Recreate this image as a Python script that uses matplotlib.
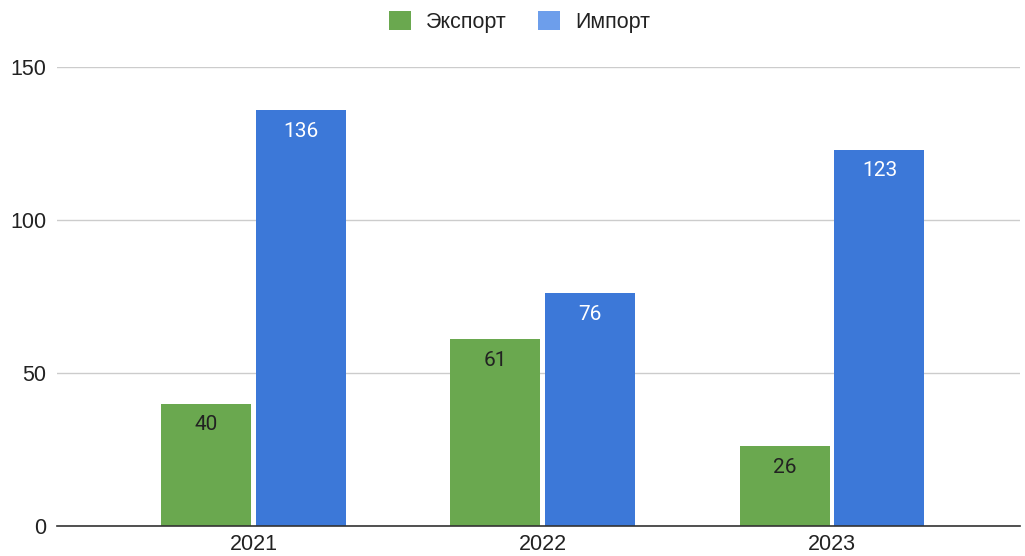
import matplotlib
matplotlib.use("Agg")
import matplotlib.pyplot as plt
from matplotlib.patches import Patch
import numpy as np

plt.rcParams['font.family'] = ['Liberation Sans', 'DejaVu Sans']

years = ["2021", "2022", "2023"]
export_vals = [40, 61, 26]
import_vals = [136, 76, 123]
series_names = ["Экспорт", "Импорт"]
yticks = [0, 50, 100, 150]

green = "#6aa84f"
blue = "#3c78d8"
blue_legend = "#6d9eeb"

fig = plt.figure(figsize=(10.25, 5.56), dpi=100)
ax = fig.add_axes([57/1025, 1 - 526/556, (1020-57)/1025, (526-67)/556])

x = np.arange(len(years))
w = 0.311
off = 0.164
b1 = ax.bar(x - off, export_vals, w, color=green, zorder=3)
b2 = ax.bar(x + off, import_vals, w, color=blue, zorder=3)

for rect, v in zip(b1, export_vals):
    ax.annotate(str(v), (rect.get_x() + rect.get_width()/2, v), xytext=(0, -8.5),
                textcoords="offset points", ha="center", va="top", fontsize=15,
                family=['Roboto', 'DejaVu Sans'], color="#222222", zorder=4)
for rect, v in zip(b2, import_vals):
    ax.annotate(str(v), (rect.get_x() + rect.get_width()/2, v), xytext=(0, -8.5),
                textcoords="offset points", ha="center", va="top", fontsize=15,
                family=['Roboto', 'DejaVu Sans'], color="white", zorder=4)

ax.set_xlim(-0.68, 2.65)
ax.set_ylim(0, 150)
ax.set_yticks(yticks)
ax.set_xticks(x)
ax.set_xticklabels(years)
ax.tick_params(axis='both', length=0, labelsize=15.5, colors="#222222")
ax.tick_params(axis='y', pad=7.5)
ax.tick_params(axis='x', pad=6)
ax.grid(axis='y', color="#cccccc", linewidth=1, zorder=0)
for s in ["top", "right", "left"]:
    ax.spines[s].set_visible(False)
ax.spines["bottom"].set_color("#333333")
ax.spines["bottom"].set_linewidth(1.2)
ax.spines["bottom"].set_zorder(5)

handles = [Patch(facecolor=green, edgecolor='none'), Patch(facecolor=blue_legend, edgecolor='none')]
fig.legend(handles, series_names, loc="center", bbox_to_anchor=(0.507, 1 - 22/556), ncol=2,
           frameon=False, fontsize=15.5, handlelength=1.02, handleheight=1.02, columnspacing=1.45,
           handletextpad=0.7, labelcolor="#222222")

fig.savefig("out.png", dpi=100)
